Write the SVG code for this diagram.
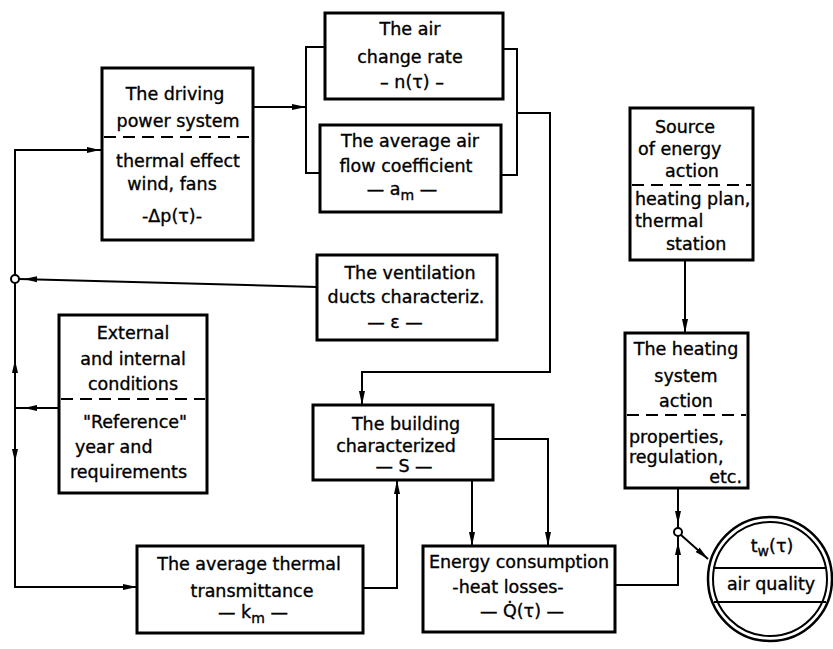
<svg xmlns="http://www.w3.org/2000/svg" width="833" height="649" viewBox="0 0 833 649">
<style>
.box{fill:#fff;stroke:#000;stroke-width:3}
.dash{stroke:#000;stroke-width:2;stroke-dasharray:12,7;fill:none}
.ln{stroke:#000;stroke-width:2;fill:none}
text{font-family:"DejaVu Sans","Noto Sans",sans-serif;font-size:17.5px;fill:#000;stroke:#000;stroke-width:0.35}
.c{text-anchor:middle}
.r{text-anchor:end}
.sub{font-size:14px}
</style>
<defs>
<marker id="ah" viewBox="0 0 14 8" refX="14" refY="4" markerWidth="14" markerHeight="8" markerUnits="userSpaceOnUse" orient="auto">
<path d="M0,1 L14,4 L0,7 Z" fill="#000"/>
</marker>
<path id="tip" d="M-13,-3 L0,0 L-13,3 Z" fill="#000"/>
</defs>
<rect width="833" height="649" fill="#fff"/>

<g id="connectors">
<path class="ln" d="M253,107 L306,107" marker-end="url(#ah)"/>
<path class="ln" d="M325,47 L306,47 L306,173 L320,173"/>
<path class="ln" d="M503,49 L517,49 L517,175 L501,175"/>
<path class="ln" d="M517,113 L550,113 L550,372 L362,372 L362,405" marker-end="url(#ah)"/>
<path class="ln" d="M102,150 L15,150 L15,587 L137,587" marker-end="url(#ah)"/>
<use href="#tip" transform="translate(100,150)"/>
<use href="#tip" transform="translate(15,360) rotate(-90)"/>
<use href="#tip" transform="translate(15,462) rotate(90)"/>
<path class="ln" d="M317,287 L19,279"/>
<use href="#tip" transform="translate(24,279) rotate(181.5)"/>
<circle cx="15" cy="279" r="4" fill="#fff" stroke="#000" stroke-width="2"/>
<path class="ln" d="M59,408 L15,408"/>
<use href="#tip" transform="translate(24,408) rotate(180)"/>
<path class="ln" d="M363,588 L397,588 L397,480" marker-end="url(#ah)"/>
<path class="ln" d="M472,480 L472,546" marker-end="url(#ah)"/>
<path class="ln" d="M493,439 L548,439 L548,546" marker-end="url(#ah)"/>
<path class="ln" d="M685,260 L685,333" marker-end="url(#ah)"/>
<path class="ln" d="M678,488 L678,528"/>
<use href="#tip" transform="translate(678,524) rotate(90)"/>
<path class="ln" d="M615,585 L678,585 L678,536"/>
<use href="#tip" transform="translate(678,542) rotate(-90)"/>
<circle cx="678" cy="532" r="4" fill="#fff" stroke="#000" stroke-width="2"/>
<path class="ln" d="M681,535 L708,559" marker-end="url(#ah)"/>
</g>

<g id="driving">
<rect class="box" x="102" y="68" width="151" height="172"/>
<line class="dash" x1="104" y1="137" x2="251" y2="137"/>
<text class="c" x="175" y="100">The driving</text>
<text class="c" x="178" y="127">power system</text>
<text class="c" x="178" y="167">thermal effect</text>
<text class="c" x="172" y="190">wind, fans</text>
<text class="c" x="172" y="222">-Δp(τ)-</text>
</g>

<g id="airchange">
<rect class="box" x="325" y="13" width="178" height="86"/>
<text class="c" x="410" y="35">The air</text>
<text class="c" x="410" y="63">change rate</text>
<text class="c" x="412" y="88">– n(τ) –</text>
</g>

<g id="airflow">
<rect class="box" x="320" y="125" width="181" height="87"/>
<text class="c" x="410" y="147">The average air</text>
<text class="c" x="406" y="172">flow coefficient</text>
<text class="c" x="402" y="195">— a<tspan class="sub" dy="5">m</tspan><tspan dy="-5"> —</tspan></text>
</g>

<g id="source">
<rect class="box" x="630" y="108" width="123" height="152"/>
<line class="dash" x1="632" y1="185" x2="751" y2="185"/>
<text class="c" x="685" y="133">Source</text>
<text x="638" y="155">of energy</text>
<text class="c" x="692" y="177">action</text>
<text x="635" y="205">heating plan,</text>
<text x="635" y="227">thermal</text>
<text x="666" y="250">station</text>
</g>

<g id="ventilation">
<rect class="box" x="317" y="255" width="180" height="85"/>
<text class="c" x="410" y="279">The ventilation</text>
<text class="c" x="406" y="303">ducts characteriz.</text>
<text class="c" x="395" y="328">— ε —</text>
</g>

<g id="external">
<rect class="box" x="59" y="315" width="148" height="178"/>
<line class="dash" x1="61" y1="399" x2="205" y2="399"/>
<text class="c" x="133" y="339">External</text>
<text class="c" x="133" y="365">and internal</text>
<text class="c" x="133" y="390">conditions</text>
<text class="c" x="135" y="428">"Reference"</text>
<text x="75" y="453">year and</text>
<text x="70" y="478">requirements</text>
</g>

<g id="building">
<rect class="box" x="313" y="405" width="180" height="75"/>
<text class="c" x="406" y="430">The building</text>
<text class="c" x="396" y="452">characterized</text>
<text class="c" x="404" y="472">— S —</text>
</g>

<g id="heating">
<rect class="box" x="625" y="333" width="123" height="155"/>
<line class="dash" x1="627" y1="415" x2="746" y2="415"/>
<text class="c" x="686" y="355">The heating</text>
<text class="c" x="686" y="382">system</text>
<text class="c" x="686" y="407">action</text>
<text x="629" y="443">properties,</text>
<text x="629" y="463">regulation,</text>
<text class="r" x="742" y="483">etc.</text>
</g>

<g id="transmittance">
<rect class="box" x="137" y="546" width="226" height="87"/>
<text class="c" x="249" y="570">The average thermal</text>
<text class="c" x="252" y="597">transmittance</text>
<text class="c" x="253" y="618">— k<tspan class="sub" dy="5">m</tspan><tspan dy="-5"> —</tspan></text>
</g>

<g id="energy">
<rect class="box" x="423" y="546" width="192" height="86"/>
<text class="c" x="519" y="568">Energy consumption</text>
<text class="c" x="508" y="593">-heat losses-</text>
<text class="c" x="522" y="617">— Q̇(τ) —</text>
</g>

<g id="room">
<circle cx="770" cy="579" r="62" fill="#fff" stroke="#000" stroke-width="2.5"/>
<circle cx="770" cy="579" r="57" fill="none" stroke="#000" stroke-width="2"/>
<line class="ln" x1="714" y1="568" x2="826" y2="568"/>
<line class="ln" x1="714" y1="602" x2="826" y2="602"/>
<text class="c" x="772" y="552">t<tspan class="sub" dy="4">w</tspan><tspan dy="-4">(τ)</tspan></text>
<text class="c" x="771" y="590">air quality</text>
</g>
</svg>
